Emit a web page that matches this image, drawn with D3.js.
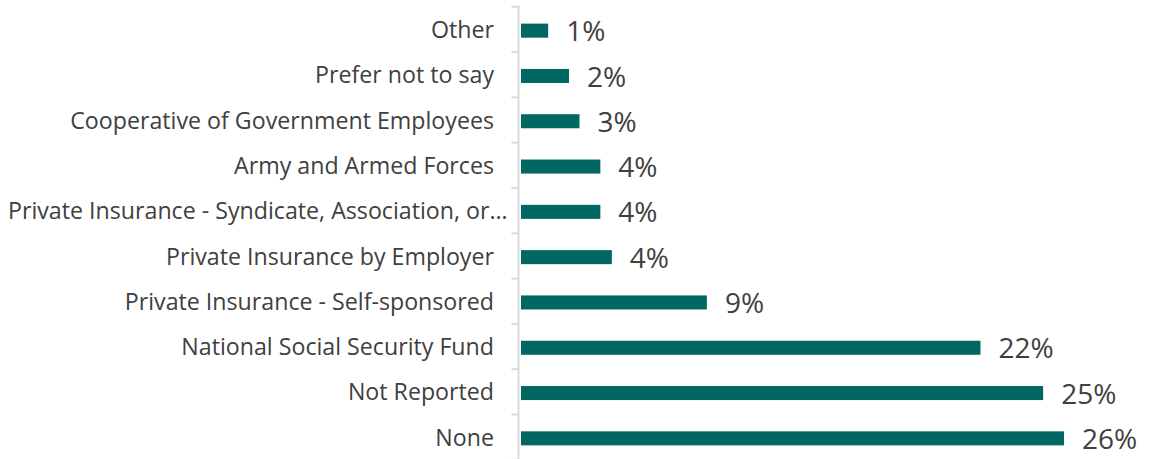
<!DOCTYPE html>
<html lang="en">
  <head>
    <meta charset="UTF-8" />
    <title>Health coverage</title>
    <script src="https://d3js.org/d3.v7.min.js"></script>
    <style>
      body {
        margin: 0;
        background: #fff;
      }
      svg {
        display: block;
      }
      .cat {
        font-family: "Open Sans", sans-serif;
        font-size: 23.2px;
        fill: #404040;
      }
      .val {
        font-family: "Open Sans", sans-serif;
        font-size: 28px;
        fill: #404040;
      }
    </style>
  </head>
  <body>
    <svg id="chart" width="1152" height="459"></svg>

    <script>
      // categories top to bottom, values in percent
      const categories = [
        "Other",
        "Prefer not to say",
        "Cooperative of Government Employees",
        "Army and Armed Forces",
        "Private Insurance - Syndicate, Association, or…",
        "Private Insurance by Employer",
        "Private Insurance - Self-sponsored",
        "National Social Security Fund",
        "Not Reported",
        "None",
      ];
      const values = [1.3, 2.3, 2.8, 3.8, 3.8, 4.35, 8.9, 22.0, 25.0, 26.0];

      const svg = d3.select("#chart");
      const axisX = 518.5;
      const labelRight = 494;
      const plotTop = 6.8;

      const x = d3.scaleLinear().domain([0, 30]).range([axisX + 2.5, axisX + 2.5 + 30 * 20.885]);
      // band centred a bit below the middle of each slot, as in the original
      const y = d3
        .scaleBand()
        .domain(categories)
        .range([plotTop + 1.2, plotTop + 1.2 + 453])
        .paddingInner(0.69)
        .paddingOuter(0.345);

      // axis line and tick marks between categories
      const step = y.step();
      svg
        .append("line")
        .attr("x1", axisX)
        .attr("x2", axisX)
        .attr("y1", plotTop - 1)
        .attr("y2", 459)
        .attr("stroke", "#d9d9d9")
        .attr("stroke-width", 2);

      svg
        .selectAll(".tick")
        .data(d3.range(categories.length + 1))
        .join("line")
        .attr("x1", axisX - 7)
        .attr("x2", axisX)
        .attr("y1", (i) => plotTop + i * step)
        .attr("y2", (i) => plotTop + i * step)
        .attr("stroke", "#d9d9d9")
        .attr("stroke-width", 2);

      const rows = svg
        .selectAll(".row")
        .data(categories.map((c, i) => ({ cat: c, v: values[i] })))
        .join("g");

      rows
        .append("rect")
        .attr("x", x(0))
        .attr("y", (d) => y(d.cat))
        .attr("width", (d) => x(d.v) - x(0))
        .attr("height", y.bandwidth())
        .attr("fill", "#006762");

      rows
        .append("text")
        .attr("class", "val")
        .attr("x", (d) => x(d.v) + 18)
        .attr("y", (d) => y(d.cat) + y.bandwidth() / 2 + 0.5)
        .attr("dy", "0.36em")
        .text((d) => Math.round(d.v) + "%");

      // category labels, right aligned; an overlong one starts at the left edge
      rows
        .append("text")
        .attr("class", "cat")
        .attr("x", labelRight)
        .attr("y", (d) => y(d.cat) + y.bandwidth() / 2 - 1)
        .attr("dy", "0.36em")
        .attr("text-anchor", "end")
        .text((d) => d.cat)
        .each(function () {
          const w = this.getComputedTextLength();
          if (w > labelRight - 8) {
            d3.select(this).attr("text-anchor", "start").attr("x", 8);
          }
        });
    </script>
  </body>
</html>
